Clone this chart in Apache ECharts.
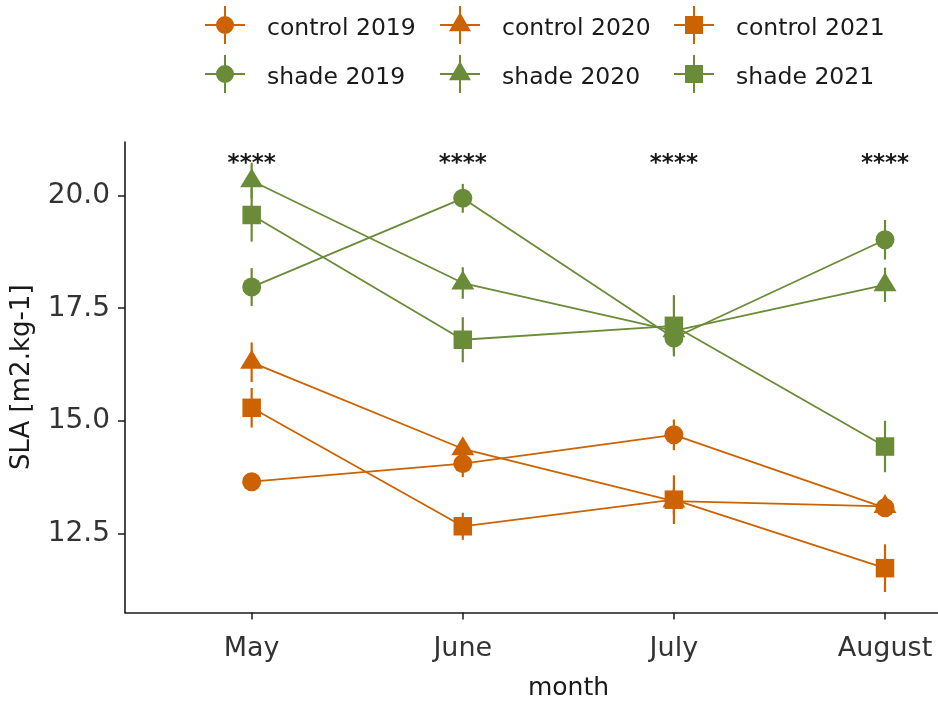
<!DOCTYPE html>
<html>
<head>
<meta charset="utf-8">
<script src="https://cdn.jsdelivr.net/npm/echarts@6/dist/echarts.min.js"></script>
<style>
  html, body { margin: 0; padding: 0; background: #ffffff; }
  #chart { width: 938px; height: 702px; }
</style>
</head>
<body>
<div id="chart"></div>
<script>
// Specific leaf area by month, control vs shade, three seasons
const months = ['May', 'June', 'July', 'August'];
const yTicks = [12.5, 15.0, 17.5, 20.0];

const control2019 = [13.65, 14.05, 14.69, 13.07];
const control2019Se = [0.12, 0.30, 0.34, 0.15];
const control2020 = [16.30, 14.38, 13.22, 13.10];
const control2020Se = [0.44, 0.22, 0.30, 0.18];
const control2021 = [15.29, 12.66, 13.25, 11.73];
const control2021Se = [0.44, 0.30, 0.54, 0.53];
const shade2019 = [17.97, 19.94, 16.84, 19.02];
const shade2019Se = [0.42, 0.32, 0.30, 0.44];
const shade2020 = [20.33, 18.06, 17.00, 18.02];
const shade2020Se = [0.40, 0.35, 0.30, 0.38];
const shade2021 = [19.57, 16.80, 17.11, 14.43];
const shade2021Se = [0.59, 0.50, 0.68, 0.57];

// significance of the control/shade contrast per month
const sigLabels = ['****', '****', '****', '****'];
const sigLevel = 20.71;

const ORANGE = '#CD6200';
const GREEN = '#6A8B37';
const FONT = 'DejaVu Sans';

// legend keys: errorbar cross with the point shape on top
const keyCross = 'M0,18 L40,18 L40,20 L0,20 Z M19,0 L21,0 L21,38 L19,38 Z ';
const keyShapes = {
  circle: 'M29,19 A9,9 0 1 1 11,19 A9,9 0 1 1 29,19 Z',
  triangle: 'M20,6.3 L31,25.3 L9,25.3 Z',
  rect: 'M11,10 L29,10 L29,28 L11,28 Z'
};

const groups = [
  { name: 'control 2019', values: control2019, se: control2019Se, color: ORANGE, shape: 'circle' },
  { name: 'control 2020', values: control2020, se: control2020Se, color: ORANGE, shape: 'triangle' },
  { name: 'control 2021', values: control2021, se: control2021Se, color: ORANGE, shape: 'rect' },
  { name: 'shade 2019', values: shade2019, se: shade2019Se, color: GREEN, shape: 'circle' },
  { name: 'shade 2020', values: shade2020, se: shade2020Se, color: GREEN, shape: 'triangle' },
  { name: 'shade 2021', values: shade2021, se: shade2021Se, color: GREEN, shape: 'rect' }
];

const symbolSizes = { circle: 19, triangle: [23, 19], rect: 18.5 };
const symbolOffsets = { circle: [0, 0], triangle: [0, -3], rect: [0, 0] };

const series = [];
groups.forEach(function (g) {
  // vertical error bars (mean ± se)
  series.push({
    type: 'custom',
    name: g.name,
    z: 2,
    silent: true,
    itemStyle: { color: g.color },
    data: g.values.map(function (v, i) { return [i + 1, v - g.se[i], v + g.se[i]]; }),
    renderItem: function (params, api) {
      const lo = api.coord([api.value(0), api.value(1)]);
      const hi = api.coord([api.value(0), api.value(2)]);
      return {
        type: 'line',
        shape: { x1: lo[0], y1: lo[1], x2: hi[0], y2: hi[1] },
        style: { stroke: g.color, lineWidth: 2.2 }
      };
    }
  });
  // mean trajectory with points
  series.push({
    type: 'line',
    name: g.name,
    z: 3,
    data: g.values.map(function (v, i) { return [i + 1, v]; }),
    symbol: g.shape,
    symbolSize: symbolSizes[g.shape],
    symbolOffset: symbolOffsets[g.shape],
    showAllSymbol: true,
    itemStyle: { color: g.color },
    lineStyle: { color: g.color, width: 1.8 },
    emphasis: { disabled: true },
    animation: false
  });
});

// significance stars above each month
series.push({
  type: 'custom',
  name: 'sig',
  z: 4,
  silent: true,
  data: sigLabels.map(function (s, i) { return [i + 1, sigLevel]; }),
  renderItem: function (params, api) {
    const p = api.coord([api.value(0), api.value(1)]);
    return {
      type: 'text',
      x: p[0],
      y: p[1],
      style: {
        text: sigLabels[params.dataIndex],
        fontFamily: FONT,
        fontSize: 23,
        fontWeight: 'bold',
        fill: '#1a1a1a',
        align: 'center',
        verticalAlign: 'middle'
      }
    };
  }
});

// ggplot-style legend: 3 columns x 2 rows
const legendCols = [205, 440, 674];
const legendRows = [6, 55];
const legends = groups.map(function (g, i) {
  return {
    left: legendCols[i % 3],
    top: legendRows[Math.floor(i / 3)],
    padding: 0,
    itemWidth: 40,
    itemHeight: 38,
    icon: 'path://' + keyCross + keyShapes[g.shape],
    selectedMode: false,
    data: [g.name],
    formatter: '{key|{name}}',
    textStyle: {
      fontFamily: FONT,
      fontSize: 23.5,
      color: '#1a1a1a',
      padding: [0, 0, 0, 17],
      rich: {
        key: {
          fontFamily: FONT,
          fontSize: 23.5,
          color: '#1a1a1a',
          padding: [8, 0, 0, 0]
        }
      }
    }
  };
});

const chart = echarts.init(document.getElementById('chart'), null, { renderer: 'canvas' });
chart.setOption({
  animation: false,
  backgroundColor: '#ffffff',
  legend: legends,
  grid: { left: 125, top: 142, right: 0, bottom: 89.5, containLabel: false, outerBoundsMode: 'none' },
  xAxis: {
    type: 'value',
    // the panel runs on past the right edge of the page
    min: 0.4,
    max: 4.251,
    name: 'month',
    nameLocation: 'middle',
    nameGap: 63,
    nameTextStyle: { fontFamily: FONT, fontSize: 25, color: '#1a1a1a', padding: [0, 0, 0, 74] },
    axisLine: { show: true, lineStyle: { color: '#1a1a1a', width: 1.6 } },
    axisTick: { show: true, length: 7, customValues: [1, 2, 3, 4], lineStyle: { color: '#1a1a1a', width: 1.5 } },
    axisLabel: {
      customValues: [1, 2, 3, 4],
      formatter: function (v) { return months[Math.round(v) - 1]; },
      fontFamily: FONT,
      fontSize: 27,
      color: '#333333',
      margin: 23
    },
    splitLine: { show: false }
  },
  yAxis: {
    type: 'value',
    min: 10.746,
    max: 21.19,
    name: 'SLA [m2.kg-1]',
    nameLocation: 'middle',
    nameGap: 90,
    nameRotate: 90,
    nameTextStyle: { fontFamily: FONT, fontSize: 26, color: '#1a1a1a' },
    axisLine: { show: true, lineStyle: { color: '#1a1a1a', width: 1.6 } },
    axisTick: { show: true, length: 7, customValues: yTicks, lineStyle: { color: '#1a1a1a', width: 1.5 } },
    axisLabel: {
      customValues: yTicks,
      formatter: function (v) { return v.toFixed(1); },
      fontFamily: FONT,
      fontSize: 28,
      color: '#333333',
      margin: 15
    },
    splitLine: { show: false }
  },
  series: series
});
</script>
</body>
</html>
